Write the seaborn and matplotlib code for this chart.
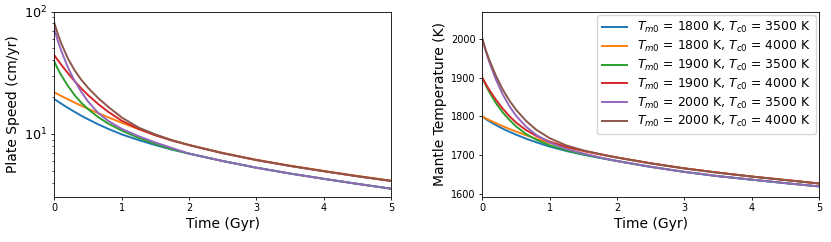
import matplotlib
matplotlib.use("Agg")
import matplotlib.pyplot as plt
import numpy as np
import pandas as pd
import seaborn as sns

# Time grid (Gyr), shared by every run
time = [0, 0.05, 0.1, 0.2, 0.3, 0.4, 0.5, 0.65, 0.8, 1.0, 1.25, 1.5, 1.75,
        2.0, 2.5, 3.0, 3.5, 4.0, 4.5, 5.0]

labels = [
    "$T_{m0}$ = 1800 K, $T_{c0}$ = 3500 K",
    "$T_{m0}$ = 1800 K, $T_{c0}$ = 4000 K",
    "$T_{m0}$ = 1900 K, $T_{c0}$ = 3500 K",
    "$T_{m0}$ = 1900 K, $T_{c0}$ = 4000 K",
    "$T_{m0}$ = 2000 K, $T_{c0}$ = 3500 K",
    "$T_{m0}$ = 2000 K, $T_{c0}$ = 4000 K",
]

# Plate speed (cm/yr)
speed_1800_3500 = [19.3, 18.5, 17.74, 16.38, 15.18, 14.12, 13.2, 12.01, 11.02, 9.93,
                   8.92, 8.11, 7.45, 6.91, 6.01, 5.30, 4.75, 4.30, 3.91, 3.57]
speed_1800_4000 = [21.9, 21.18, 20.5, 19.23, 18.08, 17.04, 16.1, 14.82, 13.69, 12.36,
                   10.96, 9.82, 8.89, 8.12, 7.0, 6.15, 5.51, 4.99, 4.54, 4.16]
speed_1900_3500 = [39.0, 34.26, 30.46, 24.82, 20.83, 18.02, 15.98, 13.76, 12.16, 10.66,
                   9.29, 8.28, 7.49, 6.91, 6.01, 5.30, 4.75, 4.30, 3.91, 3.57]
speed_1900_4000 = [44.0, 40.31, 37.02, 31.49, 27.1, 23.61, 20.81, 17.59, 15.19, 12.84,
                   11.0, 9.75, 8.82, 8.12, 6.97, 6.12, 5.48, 4.96, 4.51, 4.13]
speed_2000_3500 = [72.0, 58.4, 48.5, 35.2, 27.3, 22.13, 18.49, 14.87, 12.8, 11.02,
                   9.6, 8.52, 7.67, 6.91, 6.01, 5.30, 4.75, 4.30, 3.91, 3.57]
speed_2000_4000 = [81.0, 66.3, 55.66, 41.65, 33.25, 27.77, 23.9, 19.67, 16.68, 13.65,
                   11.29, 9.91, 8.88, 8.12, 6.97, 6.12, 5.48, 4.96, 4.51, 4.13]

# Mantle temperature (K)
temp_1800_3500 = [1800, 1793.5, 1787.8, 1777.8, 1768.8, 1760.6, 1753.1, 1742.6, 1733.3, 1722.3,
                  1710.8, 1701.3, 1692.8, 1685, 1670, 1657, 1646, 1637, 1628, 1619.5]
temp_1800_4000 = [1800, 1795.3, 1790.9, 1782.7, 1775.1, 1767.9, 1761.1, 1751.5, 1742.5, 1731.5,
                  1720.2, 1710.7, 1702.2, 1694.2, 1679.2, 1666.2, 1655.2, 1645.2, 1636.2, 1627.3]
temp_1900_3500 = [1900, 1881, 1864, 1835, 1811, 1791.5, 1774.5, 1754.5, 1740, 1725.5,
                  1712.5, 1702.5, 1693.5, 1685, 1670, 1657, 1646, 1637, 1628, 1619.5]
temp_1900_4000 = [1900, 1884, 1869.5, 1843.5, 1820.7, 1801.1, 1784.3, 1764.8, 1749.8, 1735,
                  1721.5, 1711.5, 1702.5, 1694, 1679, 1666, 1655, 1645, 1636, 1627]
temp_2000_3500 = [2000, 1969, 1942, 1896, 1858, 1827, 1802, 1773.5, 1752.5, 1732.5,
                  1716, 1704.5, 1694, 1685, 1670, 1657, 1646, 1637, 1628, 1619.5]
temp_2000_4000 = [2000, 1972, 1947.5, 1905.5, 1870.5, 1841.5, 1817.5, 1788.3, 1765.8, 1743.8,
                  1725, 1712.5, 1702.5, 1694, 1679, 1666, 1655, 1645, 1636, 1627]

speeds = [speed_1800_3500, speed_1800_4000, speed_1900_3500,
          speed_1900_4000, speed_2000_3500, speed_2000_4000]
temps = [temp_1800_3500, temp_1800_4000, temp_1900_3500,
         temp_1900_4000, temp_2000_3500, temp_2000_4000]

frames = []
for lab, sp, tm in zip(labels, speeds, temps):
    frames.append(pd.DataFrame({"time": time, "speed": sp, "temp": tm, "run": lab}))
df = pd.concat(frames, ignore_index=True)

colors = sns.color_palette("tab10", 6)
plt.rcParams.update({
    "font.family": ["DejaVu Sans"],
    "axes.labelsize": 10,
    "xtick.labelsize": 7,
    "ytick.labelsize": 7,
    "legend.fontsize": 8.9,
    "axes.linewidth": 0.6,
    "xtick.major.size": 2.4,
    "ytick.major.size": 2.4,
    "xtick.minor.size": 1.4,
    "ytick.minor.size": 1.4,
    "xtick.major.width": 0.6,
    "ytick.major.width": 0.6,
    "ytick.minor.width": 0.5,
    "xtick.major.pad": 2.4,
    "ytick.major.pad": 2.4,
    "axes.labelpad": 2.8,
})

fig, (ax1, ax2) = plt.subplots(1, 2, figsize=(8.31, 2.42), dpi=100)
fig.subplots_adjust(left=0.0653, right=0.9859, bottom=0.187, top=0.952, wspace=0.27)

sns.lineplot(data=df, x="time", y="speed", hue="run", hue_order=labels,
             palette=colors, linewidth=1.4, ax=ax1, legend=False, sort=False)
ax1.set_yscale("log")
ax1.set_xlim(0, 5)
ax1.set_ylim(3.07, 100)
ax1.tick_params(axis="y", which="major", labelsize=9.2)
ax1.set_xlabel("Time (Gyr)")
ax1.set_ylabel("Plate Speed (cm/yr)")

sns.lineplot(data=df, x="time", y="temp", hue="run", hue_order=labels,
             palette=colors, linewidth=1.4, ax=ax2, sort=False)
ax2.set_xlim(0, 5)
ax2.set_ylim(1593, 2070)
ax2.set_yticks([1600, 1700, 1800, 1900, 2000])
ax2.set_xlabel("Time (Gyr)")
ax2.set_ylabel("Mantle Temperature (K)")
sns.move_legend(ax2, "upper right", title=None, fontsize=8.9, labelspacing=0.3,
                borderaxespad=0.3)

fig.savefig("out.png", dpi=100)
